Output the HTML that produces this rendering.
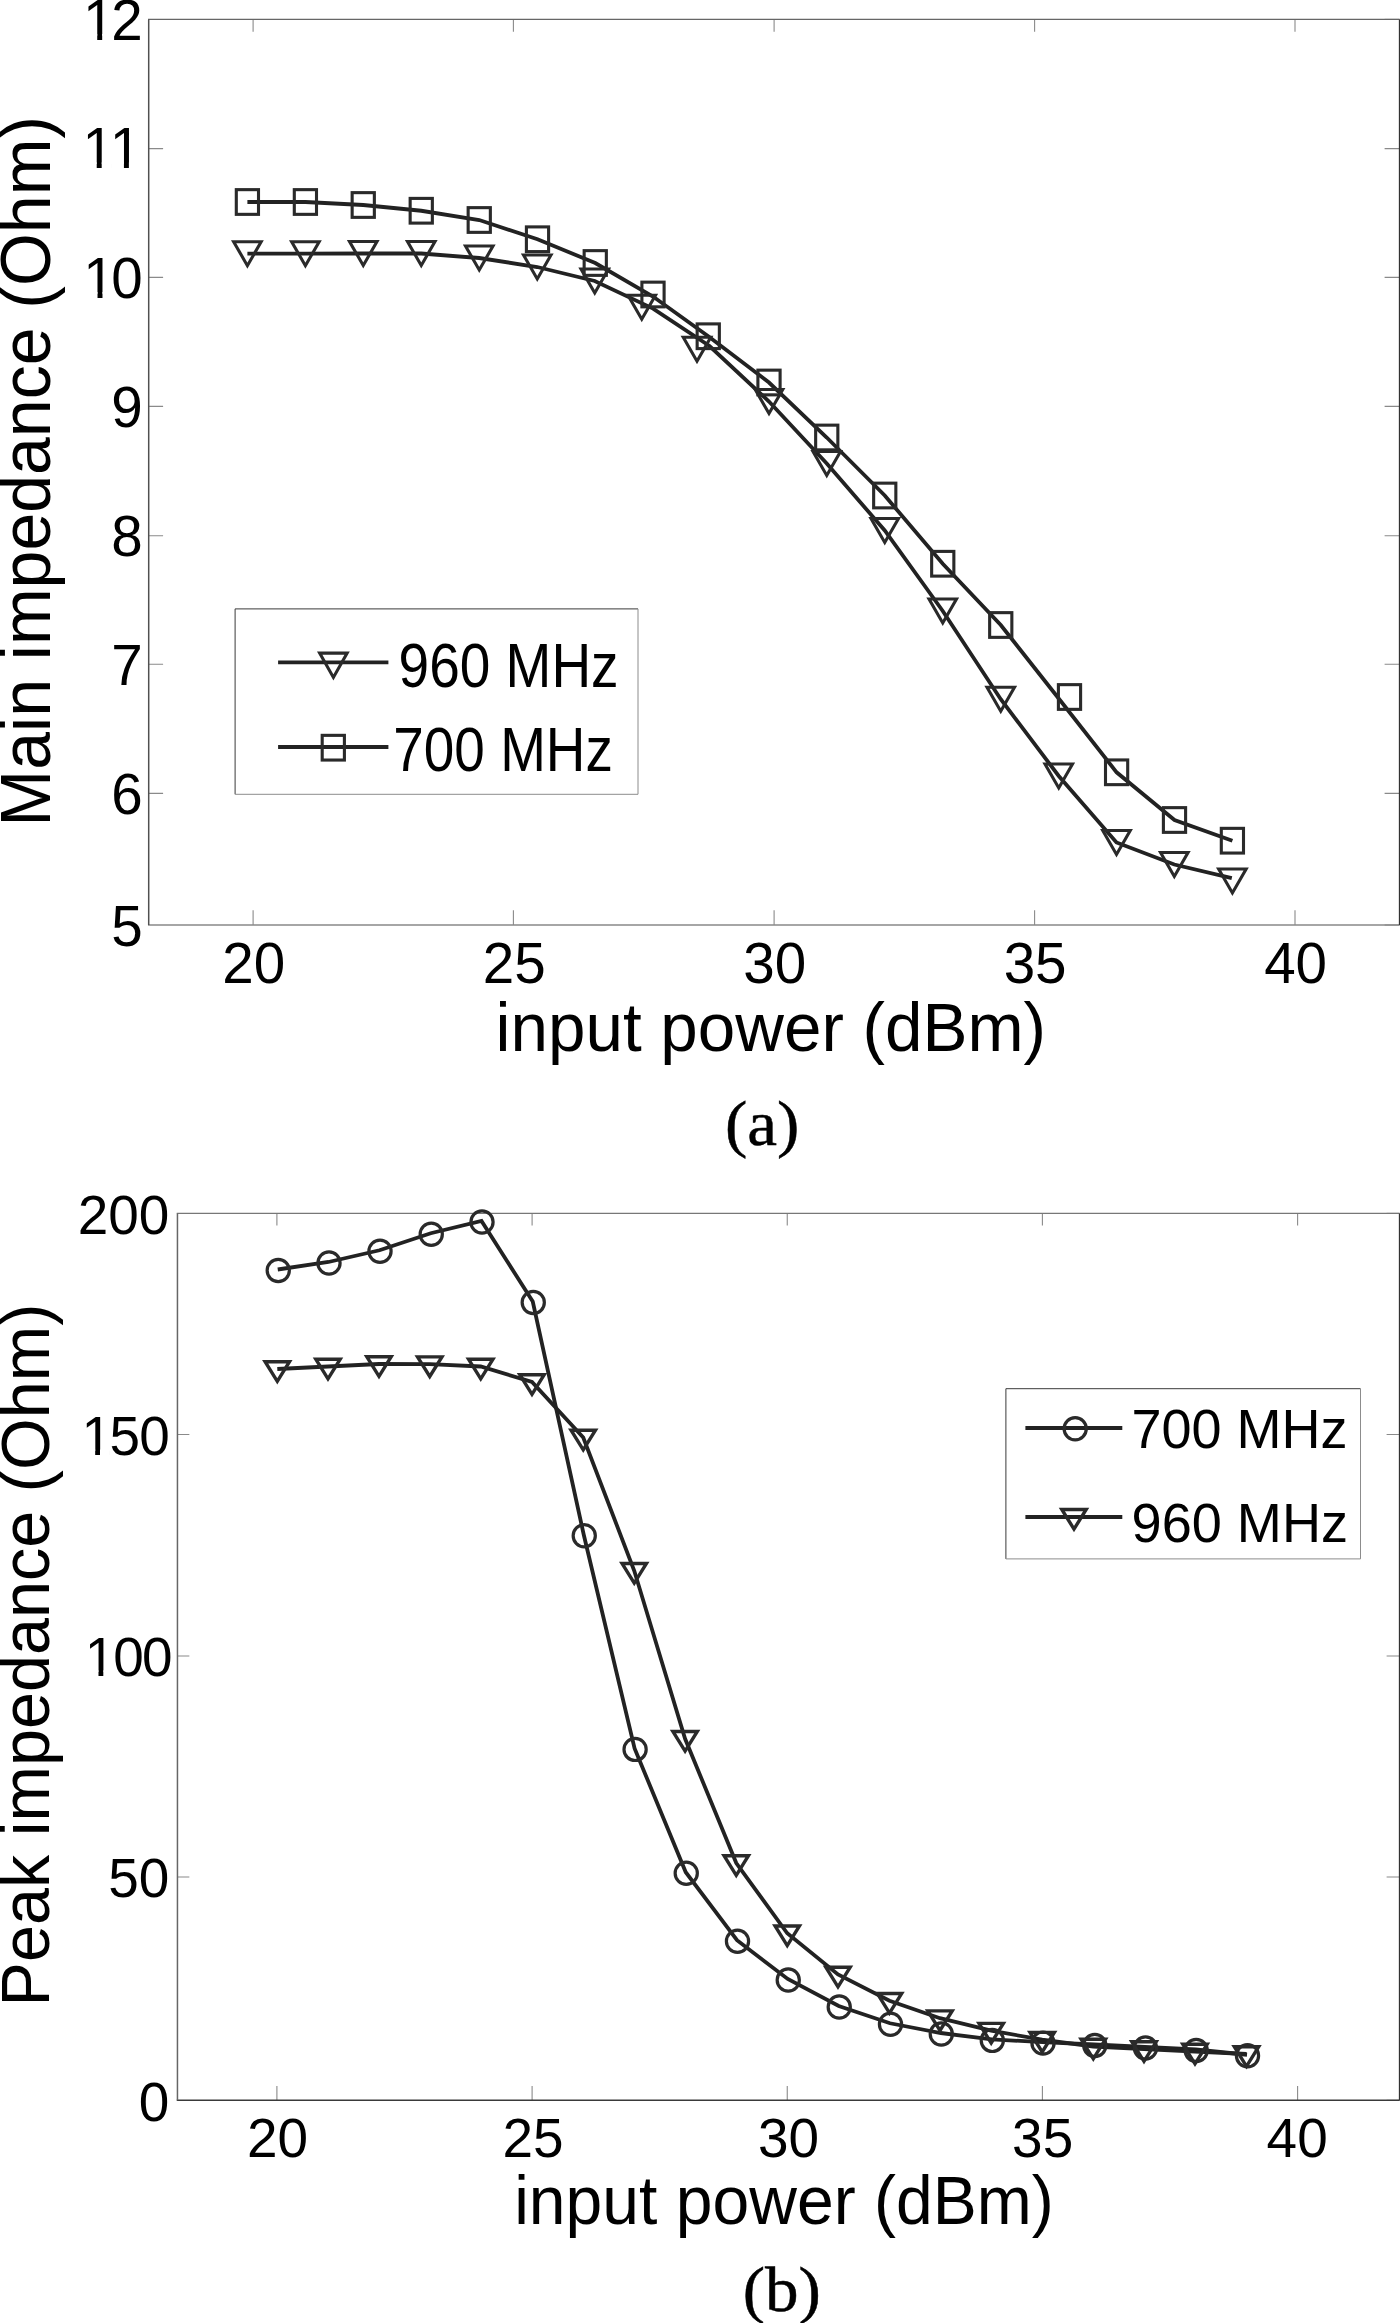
<!DOCTYPE html>
<html lang="en"><head><meta charset="utf-8"><title>Impedance versus input power</title>
<style>html,body{margin:0;padding:0;background:#fff}svg{display:block}text{font-family:"Liberation Sans",sans-serif;fill:#000}.s{font-family:"Liberation Serif",serif;stroke:#000;stroke-width:.5px}</style></head><body>
<svg width="1400" height="2323" viewBox="0 0 1400 2323">
<rect width="1400" height="2323" fill="#fff"/>
<g id="panel-a">
<path d="M253.1 925.0v-14.7M253.1 19.4v12.4" stroke="#8a8a8a" stroke-width="1.1" fill="none"/>
<path d="M513.4 925.0v-14.7M513.4 19.4v12.4" stroke="#8a8a8a" stroke-width="1.1" fill="none"/>
<path d="M774.1 925.0v-14.7M774.1 19.4v12.4" stroke="#8a8a8a" stroke-width="1.1" fill="none"/>
<path d="M1034.6 925.0v-14.7M1034.6 19.4v12.4" stroke="#8a8a8a" stroke-width="1.1" fill="none"/>
<path d="M1295.0 925.0v-14.7M1295.0 19.4v12.4" stroke="#8a8a8a" stroke-width="1.1" fill="none"/>
<path d="M1399.6 19.4h-15" stroke="#8a8a8a" stroke-width="1.1" fill="none"/>
<path d="M148.7 148.6h14.4M1399.6 148.6h-15" stroke="#8a8a8a" stroke-width="1.1" fill="none"/>
<path d="M148.7 277.4h14.4M1399.6 277.4h-15" stroke="#8a8a8a" stroke-width="1.1" fill="none"/>
<path d="M148.7 406.4h14.4M1399.6 406.4h-15" stroke="#8a8a8a" stroke-width="1.1" fill="none"/>
<path d="M148.7 535.7h14.4M1399.6 535.7h-15" stroke="#8a8a8a" stroke-width="1.1" fill="none"/>
<path d="M148.7 664.2h14.4M1399.6 664.2h-15" stroke="#8a8a8a" stroke-width="1.1" fill="none"/>
<path d="M148.7 793.4h14.4M1399.6 793.4h-15" stroke="#8a8a8a" stroke-width="1.1" fill="none"/>
<path d="M1399.6 925.0h-15" stroke="#8a8a8a" stroke-width="1.1" fill="none"/>
<path d="M148.0 19.4H1399.6" stroke="#666" stroke-width="1.3" fill="none"/>
<path d="M148.0 925.0H1399.6" stroke="#888" stroke-width="1.5" fill="none"/>
<path d="M148.7 19.4V925.0" stroke="#505050" stroke-width="1.5" fill="none"/>
<path d="M1399.6 19.4V925.0" stroke="#333" stroke-width="1.5" fill="none"/>
<text x="83.00 111.37" y="0" transform="translate(0 39.70) scale(1 1.015)" font-size="56.6">12</text><rect x="86.40" y="33.96" width="10.82" height="6.61" fill="#fff"/><rect x="102.18" y="33.96" width="10.26" height="6.61" fill="#fff"/>
<text x="82.50 109.70" y="0" transform="translate(0 168.20) scale(1 1.015)" font-size="56.6">11</text><rect x="85.90" y="162.46" width="10.82" height="6.61" fill="#fff"/><rect x="101.68" y="162.46" width="10.26" height="6.61" fill="#fff"/><rect x="113.10" y="162.46" width="10.82" height="6.61" fill="#fff"/><rect x="128.88" y="162.46" width="10.26" height="6.61" fill="#fff"/>
<text x="83.30 111.37" y="0" transform="translate(0 297.80) scale(1 1.015)" font-size="56.6">10</text><rect x="86.70" y="292.06" width="10.82" height="6.61" fill="#fff"/><rect x="102.48" y="292.06" width="10.26" height="6.61" fill="#fff"/>
<text transform="translate(142.85 426.90) scale(1 1.015)" font-size="56.6" text-anchor="end">9</text>
<text transform="translate(142.85 555.90) scale(1 1.015)" font-size="56.6" text-anchor="end">8</text>
<text transform="translate(142.85 684.70) scale(1 1.015)" font-size="56.6" text-anchor="end">7</text>
<text transform="translate(142.85 814.00) scale(1 1.015)" font-size="56.6" text-anchor="end">6</text>
<text transform="translate(142.85 946.00) scale(1 1.015)" font-size="56.6" text-anchor="end">5</text>
<text transform="translate(253.70 982.60) scale(1 1.025)" font-size="56.6" text-anchor="middle">20</text>
<text transform="translate(514.30 982.60) scale(1 1.025)" font-size="56.6" text-anchor="middle">25</text>
<text transform="translate(774.75 982.60) scale(1 1.025)" font-size="56.6" text-anchor="middle">30</text>
<text transform="translate(1035.10 982.60) scale(1 1.025)" font-size="56.6" text-anchor="middle">35</text>
<text transform="translate(1295.60 982.60) scale(1 1.025)" font-size="56.6" text-anchor="middle">40</text>
<text transform="translate(49.9 826.4) rotate(-90) scale(1 1.035)" font-size="68">Main impedance (Ohm)</text>
<text transform="translate(495.50 1051.40) scale(1 1.027)" font-size="67.4">input power (dBm)</text>
<text class="s" transform="translate(725.00 1144.90) scale(1 0.95)" font-size="67.1">(a)</text>
<polyline points="247.40,202.00 305.40,202.00 363.25,205.00 421.25,210.75 479.25,220.00 537.50,239.25 595.25,263.00 653.00,296.50 708.25,336.25 769.00,382.50 826.75,437.50 884.75,495.50 942.75,563.75 1000.75,625.00 1058.70,698.50 1116.60,772.30 1174.50,820.00 1232.40,840.70" fill="none" stroke="#222" stroke-width="3.8" stroke-linejoin="miter" stroke-miterlimit="6" stroke-linecap="butt"/>
<polyline points="247.40,253.70 305.40,253.70 363.25,253.50 421.25,253.50 479.25,258.00 537.25,267.00 594.75,281.00 653.10,308.60 709.50,346.00 769.00,401.50 826.75,463.50 884.75,530.50 942.75,611.00 1000.75,699.25 1058.75,776.00 1116.50,842.50 1174.30,864.50 1231.80,878.20" fill="none" stroke="#222" stroke-width="3.8" stroke-linejoin="miter" stroke-miterlimit="6" stroke-linecap="butt"/>
<rect x="236.30" y="189.65" width="22.20" height="24.70" fill="none" stroke="#2a2a2a" stroke-width="3.1"/>
<rect x="294.30" y="189.65" width="22.20" height="24.70" fill="none" stroke="#2a2a2a" stroke-width="3.1"/>
<rect x="352.15" y="192.65" width="22.20" height="24.70" fill="none" stroke="#2a2a2a" stroke-width="3.1"/>
<rect x="410.15" y="198.40" width="22.20" height="24.70" fill="none" stroke="#2a2a2a" stroke-width="3.1"/>
<rect x="468.15" y="207.65" width="22.20" height="24.70" fill="none" stroke="#2a2a2a" stroke-width="3.1"/>
<rect x="526.40" y="226.90" width="22.20" height="24.70" fill="none" stroke="#2a2a2a" stroke-width="3.1"/>
<rect x="584.15" y="250.65" width="22.20" height="24.70" fill="none" stroke="#2a2a2a" stroke-width="3.1"/>
<rect x="641.90" y="282.15" width="22.20" height="24.70" fill="none" stroke="#2a2a2a" stroke-width="3.1"/>
<rect x="697.15" y="323.90" width="22.20" height="24.70" fill="none" stroke="#2a2a2a" stroke-width="3.1"/>
<rect x="757.90" y="370.15" width="22.20" height="24.70" fill="none" stroke="#2a2a2a" stroke-width="3.1"/>
<rect x="815.65" y="425.15" width="22.20" height="24.70" fill="none" stroke="#2a2a2a" stroke-width="3.1"/>
<rect x="873.65" y="483.15" width="22.20" height="24.70" fill="none" stroke="#2a2a2a" stroke-width="3.1"/>
<rect x="931.65" y="551.40" width="22.20" height="24.70" fill="none" stroke="#2a2a2a" stroke-width="3.1"/>
<rect x="989.65" y="612.65" width="22.20" height="24.70" fill="none" stroke="#2a2a2a" stroke-width="3.1"/>
<rect x="1058.40" y="684.65" width="22.20" height="24.70" fill="none" stroke="#2a2a2a" stroke-width="3.1"/>
<rect x="1105.50" y="759.95" width="22.20" height="24.70" fill="none" stroke="#2a2a2a" stroke-width="3.1"/>
<rect x="1163.40" y="807.65" width="22.20" height="24.70" fill="none" stroke="#2a2a2a" stroke-width="3.1"/>
<rect x="1221.30" y="828.35" width="22.20" height="24.70" fill="none" stroke="#2a2a2a" stroke-width="3.1"/>
<path d="M233.65 241.70H261.15L247.40 265.70Z" fill="none" stroke="#2a2a2a" stroke-width="3.1" stroke-linejoin="miter" stroke-miterlimit="10"/>
<path d="M291.65 241.70H319.15L305.40 265.70Z" fill="none" stroke="#2a2a2a" stroke-width="3.1" stroke-linejoin="miter" stroke-miterlimit="10"/>
<path d="M349.50 241.50H377.00L363.25 265.50Z" fill="none" stroke="#2a2a2a" stroke-width="3.1" stroke-linejoin="miter" stroke-miterlimit="10"/>
<path d="M407.50 241.50H435.00L421.25 265.50Z" fill="none" stroke="#2a2a2a" stroke-width="3.1" stroke-linejoin="miter" stroke-miterlimit="10"/>
<path d="M465.50 246.00H493.00L479.25 270.00Z" fill="none" stroke="#2a2a2a" stroke-width="3.1" stroke-linejoin="miter" stroke-miterlimit="10"/>
<path d="M523.50 255.00H551.00L537.25 279.00Z" fill="none" stroke="#2a2a2a" stroke-width="3.1" stroke-linejoin="miter" stroke-miterlimit="10"/>
<path d="M581.00 269.00H608.50L594.75 293.00Z" fill="none" stroke="#2a2a2a" stroke-width="3.1" stroke-linejoin="miter" stroke-miterlimit="10"/>
<path d="M628.00 295.25H655.50L641.75 319.25Z" fill="none" stroke="#2a2a2a" stroke-width="3.1" stroke-linejoin="miter" stroke-miterlimit="10"/>
<path d="M683.25 337.25H710.75L697.00 361.25Z" fill="none" stroke="#2a2a2a" stroke-width="3.1" stroke-linejoin="miter" stroke-miterlimit="10"/>
<path d="M755.25 389.50H782.75L769.00 413.50Z" fill="none" stroke="#2a2a2a" stroke-width="3.1" stroke-linejoin="miter" stroke-miterlimit="10"/>
<path d="M813.00 451.50H840.50L826.75 475.50Z" fill="none" stroke="#2a2a2a" stroke-width="3.1" stroke-linejoin="miter" stroke-miterlimit="10"/>
<path d="M871.00 518.50H898.50L884.75 542.50Z" fill="none" stroke="#2a2a2a" stroke-width="3.1" stroke-linejoin="miter" stroke-miterlimit="10"/>
<path d="M929.00 599.00H956.50L942.75 623.00Z" fill="none" stroke="#2a2a2a" stroke-width="3.1" stroke-linejoin="miter" stroke-miterlimit="10"/>
<path d="M987.00 687.25H1014.50L1000.75 711.25Z" fill="none" stroke="#2a2a2a" stroke-width="3.1" stroke-linejoin="miter" stroke-miterlimit="10"/>
<path d="M1045.00 764.00H1072.50L1058.75 788.00Z" fill="none" stroke="#2a2a2a" stroke-width="3.1" stroke-linejoin="miter" stroke-miterlimit="10"/>
<path d="M1102.75 830.50H1130.25L1116.50 854.50Z" fill="none" stroke="#2a2a2a" stroke-width="3.1" stroke-linejoin="miter" stroke-miterlimit="10"/>
<path d="M1160.55 852.50H1188.05L1174.30 876.50Z" fill="none" stroke="#2a2a2a" stroke-width="3.1" stroke-linejoin="miter" stroke-miterlimit="10"/>
<path d="M1218.65 869.00H1246.15L1232.40 893.00Z" fill="none" stroke="#2a2a2a" stroke-width="3.1" stroke-linejoin="miter" stroke-miterlimit="10"/>
<path d="M235.1 794.3V608.9H638" fill="none" stroke="#3a3a3a" stroke-width="1"/>
<path d="M638 608.9V794.3H235.1" fill="none" stroke="#8c8c8c" stroke-width="1"/>
<path d="M278.1 662.3H388.4M278.1 747.0H388.4" stroke="#222" stroke-width="3.8" fill="none"/>
<path d="M319.65 653.10H347.15L333.40 677.40Z" fill="none" stroke="#2a2a2a" stroke-width="3.1" stroke-linejoin="miter" stroke-miterlimit="10"/>
<rect x="322.20" y="735.35" width="22.20" height="24.70" fill="none" stroke="#2a2a2a" stroke-width="3.1"/>
<text transform="translate(398.60 686.60) scale(1 1.135)" font-size="55.0">960 MHz</text>
<text transform="translate(393.30 770.70) scale(1 1.135)" font-size="54.9">700 MHz</text>
</g>
<g id="panel-b">
<path d="M276.9 2100.35v-14.4M276.9 1213.4v12" stroke="#8a8a8a" stroke-width="1.1" fill="none"/>
<path d="M532.1 2100.35v-14.4M532.1 1213.4v12" stroke="#8a8a8a" stroke-width="1.1" fill="none"/>
<path d="M787.25 2100.35v-14.4M787.25 1213.4v12" stroke="#8a8a8a" stroke-width="1.1" fill="none"/>
<path d="M1042.4 2100.35v-14.4M1042.4 1213.4v12" stroke="#8a8a8a" stroke-width="1.1" fill="none"/>
<path d="M1297.6 2100.35v-14.4M1297.6 1213.4v12" stroke="#8a8a8a" stroke-width="1.1" fill="none"/>
<path d="M1399.6 1213.4h-13" stroke="#8a8a8a" stroke-width="1.1" fill="none"/>
<path d="M177.45 1434.5h11.9M1399.6 1434.5h-13" stroke="#8a8a8a" stroke-width="1.1" fill="none"/>
<path d="M177.45 1656.0h11.9M1399.6 1656.0h-13" stroke="#8a8a8a" stroke-width="1.1" fill="none"/>
<path d="M177.45 1877.0h11.9M1399.6 1877.0h-13" stroke="#8a8a8a" stroke-width="1.1" fill="none"/>
<path d="M1399.6 2100.35h-13" stroke="#8a8a8a" stroke-width="1.1" fill="none"/>
<path d="M176.75 1213.4H1399.6" stroke="#777" stroke-width="1.3" fill="none"/>
<path d="M176.75 2100.35H1399.6" stroke="#3a3a3a" stroke-width="1.5" fill="none"/>
<path d="M177.45 1213.4V2100.35" stroke="#666" stroke-width="1.5" fill="none"/>
<path d="M1399.6 1213.4V2100.35" stroke="#333" stroke-width="1.5" fill="none"/>
<text transform="translate(169.40 1234.15) scale(1 1.0)" font-size="54.9" text-anchor="end">200</text>
<text x="81.40 109.50 139.30" y="0" transform="translate(0 1455.05) scale(1 1.0)" font-size="54.9">150</text><rect x="84.69" y="1449.56" width="10.50" height="6.31" fill="#fff"/><rect x="100.00" y="1449.56" width="9.95" height="6.31" fill="#fff"/>
<text x="84.70 113.30 142.00" y="0" transform="translate(0 1675.90) scale(1 1.0)" font-size="54.9">100</text><rect x="87.99" y="1670.41" width="10.50" height="6.31" fill="#fff"/><rect x="103.30" y="1670.41" width="9.95" height="6.31" fill="#fff"/>
<text transform="translate(169.40 1896.95) scale(1 1.0)" font-size="54.9" text-anchor="end">50</text>
<text transform="translate(169.40 2120.65) scale(1 1.0)" font-size="54.9" text-anchor="end">0</text>
<text transform="translate(277.50 2156.60) scale(1 1.0)" font-size="54.9" text-anchor="middle">20</text>
<text transform="translate(533.10 2156.60) scale(1 1.0)" font-size="54.9" text-anchor="middle">25</text>
<text transform="translate(788.45 2156.60) scale(1 1.0)" font-size="54.9" text-anchor="middle">30</text>
<text transform="translate(1042.65 2156.60) scale(1 1.0)" font-size="54.9" text-anchor="middle">35</text>
<text transform="translate(1297.15 2156.60) scale(1 1.0)" font-size="54.9" text-anchor="middle">40</text>
<text transform="translate(48.9 2006.5) rotate(-90) scale(1 1.035)" font-size="66.57">Peak impedance (Ohm)</text>
<text transform="translate(514.20 2224.00) scale(1 1.027)" font-size="66.05">input power (dBm)</text>
<text class="s" transform="translate(742.70 2310.50) scale(1 0.95)" font-size="67.1">(b)</text>
<polyline points="277.75,1269.50 328.50,1262.00 379.50,1250.25 430.75,1233.25 481.50,1221.00 532.75,1301.50 583.75,1534.75 634.60,1748.40 685.75,1872.25 737.00,1940.25 787.75,1979.00 838.75,2006.00 890.00,2023.25 940.80,2033.00 991.80,2039.40 1042.50,2042.10 1094.30,2044.50 1145.00,2047.00 1195.70,2049.50 1247.00,2054.75" fill="none" stroke="#222" stroke-width="3.8" stroke-linejoin="miter" stroke-miterlimit="6" stroke-linecap="butt"/>
<polyline points="277.30,1369.00 328.00,1366.50 379.00,1364.00 429.75,1364.20 480.75,1366.50 532.00,1382.00 583.25,1437.50 634.25,1570.80 685.10,1738.80 736.25,1863.00 787.25,1933.30 838.00,1974.50 889.50,2000.80 940.00,2018.20 991.20,2030.70 1042.20,2039.70 1093.30,2046.50 1144.00,2049.10 1195.00,2051.50 1246.50,2054.00" fill="none" stroke="#222" stroke-width="3.8" stroke-linejoin="miter" stroke-miterlimit="6" stroke-linecap="butt"/>
<circle cx="278.25" cy="1270.50" r="11.1" fill="none" stroke="#2a2a2a" stroke-width="3.2"/>
<circle cx="329.00" cy="1263.00" r="11.1" fill="none" stroke="#2a2a2a" stroke-width="3.2"/>
<circle cx="380.00" cy="1251.25" r="11.1" fill="none" stroke="#2a2a2a" stroke-width="3.2"/>
<circle cx="431.25" cy="1234.25" r="11.1" fill="none" stroke="#2a2a2a" stroke-width="3.2"/>
<circle cx="482.00" cy="1222.00" r="11.1" fill="none" stroke="#2a2a2a" stroke-width="3.2"/>
<circle cx="533.25" cy="1302.50" r="11.1" fill="none" stroke="#2a2a2a" stroke-width="3.2"/>
<circle cx="584.25" cy="1535.75" r="11.1" fill="none" stroke="#2a2a2a" stroke-width="3.2"/>
<circle cx="635.10" cy="1749.40" r="11.1" fill="none" stroke="#2a2a2a" stroke-width="3.2"/>
<circle cx="686.25" cy="1873.25" r="11.1" fill="none" stroke="#2a2a2a" stroke-width="3.2"/>
<circle cx="737.50" cy="1941.25" r="11.1" fill="none" stroke="#2a2a2a" stroke-width="3.2"/>
<circle cx="788.25" cy="1980.00" r="11.1" fill="none" stroke="#2a2a2a" stroke-width="3.2"/>
<circle cx="839.25" cy="2007.00" r="11.1" fill="none" stroke="#2a2a2a" stroke-width="3.2"/>
<circle cx="890.50" cy="2024.25" r="11.1" fill="none" stroke="#2a2a2a" stroke-width="3.2"/>
<circle cx="941.30" cy="2034.00" r="11.1" fill="none" stroke="#2a2a2a" stroke-width="3.2"/>
<circle cx="992.30" cy="2040.40" r="11.1" fill="none" stroke="#2a2a2a" stroke-width="3.2"/>
<circle cx="1043.00" cy="2043.10" r="11.1" fill="none" stroke="#2a2a2a" stroke-width="3.2"/>
<circle cx="1094.80" cy="2045.50" r="11.1" fill="none" stroke="#2a2a2a" stroke-width="3.2"/>
<circle cx="1145.50" cy="2048.00" r="11.1" fill="none" stroke="#2a2a2a" stroke-width="3.2"/>
<circle cx="1196.20" cy="2050.50" r="11.1" fill="none" stroke="#2a2a2a" stroke-width="3.2"/>
<circle cx="1247.50" cy="2055.75" r="11.1" fill="none" stroke="#2a2a2a" stroke-width="3.2"/>
<path d="M265.10 1361.70H289.50L277.30 1381.30Z" fill="none" stroke="#2a2a2a" stroke-width="3.4" stroke-linejoin="miter" stroke-miterlimit="10"/>
<path d="M315.80 1359.20H340.20L328.00 1378.80Z" fill="none" stroke="#2a2a2a" stroke-width="3.4" stroke-linejoin="miter" stroke-miterlimit="10"/>
<path d="M366.80 1356.70H391.20L379.00 1376.30Z" fill="none" stroke="#2a2a2a" stroke-width="3.4" stroke-linejoin="miter" stroke-miterlimit="10"/>
<path d="M417.55 1356.90H441.95L429.75 1376.50Z" fill="none" stroke="#2a2a2a" stroke-width="3.4" stroke-linejoin="miter" stroke-miterlimit="10"/>
<path d="M468.55 1359.20H492.95L480.75 1378.80Z" fill="none" stroke="#2a2a2a" stroke-width="3.4" stroke-linejoin="miter" stroke-miterlimit="10"/>
<path d="M519.80 1374.70H544.20L532.00 1394.30Z" fill="none" stroke="#2a2a2a" stroke-width="3.4" stroke-linejoin="miter" stroke-miterlimit="10"/>
<path d="M571.05 1430.20H595.45L583.25 1449.80Z" fill="none" stroke="#2a2a2a" stroke-width="3.4" stroke-linejoin="miter" stroke-miterlimit="10"/>
<path d="M622.05 1563.50H646.45L634.25 1583.10Z" fill="none" stroke="#2a2a2a" stroke-width="3.4" stroke-linejoin="miter" stroke-miterlimit="10"/>
<path d="M672.90 1731.50H697.30L685.10 1751.10Z" fill="none" stroke="#2a2a2a" stroke-width="3.4" stroke-linejoin="miter" stroke-miterlimit="10"/>
<path d="M724.05 1855.70H748.45L736.25 1875.30Z" fill="none" stroke="#2a2a2a" stroke-width="3.4" stroke-linejoin="miter" stroke-miterlimit="10"/>
<path d="M775.05 1926.00H799.45L787.25 1945.60Z" fill="none" stroke="#2a2a2a" stroke-width="3.4" stroke-linejoin="miter" stroke-miterlimit="10"/>
<path d="M825.80 1967.20H850.20L838.00 1986.80Z" fill="none" stroke="#2a2a2a" stroke-width="3.4" stroke-linejoin="miter" stroke-miterlimit="10"/>
<path d="M877.30 1993.50H901.70L889.50 2013.10Z" fill="none" stroke="#2a2a2a" stroke-width="3.4" stroke-linejoin="miter" stroke-miterlimit="10"/>
<path d="M927.80 2010.90H952.20L940.00 2030.50Z" fill="none" stroke="#2a2a2a" stroke-width="3.4" stroke-linejoin="miter" stroke-miterlimit="10"/>
<path d="M979.00 2023.40H1003.40L991.20 2043.00Z" fill="none" stroke="#2a2a2a" stroke-width="3.4" stroke-linejoin="miter" stroke-miterlimit="10"/>
<path d="M1030.00 2032.40H1054.40L1042.20 2052.00Z" fill="none" stroke="#2a2a2a" stroke-width="3.4" stroke-linejoin="miter" stroke-miterlimit="10"/>
<path d="M1081.10 2039.20H1105.50L1093.30 2058.80Z" fill="none" stroke="#2a2a2a" stroke-width="3.4" stroke-linejoin="miter" stroke-miterlimit="10"/>
<path d="M1131.80 2041.80H1156.20L1144.00 2061.40Z" fill="none" stroke="#2a2a2a" stroke-width="3.4" stroke-linejoin="miter" stroke-miterlimit="10"/>
<path d="M1182.80 2044.20H1207.20L1195.00 2063.80Z" fill="none" stroke="#2a2a2a" stroke-width="3.4" stroke-linejoin="miter" stroke-miterlimit="10"/>
<path d="M1234.30 2046.70H1258.70L1246.50 2066.30Z" fill="none" stroke="#2a2a2a" stroke-width="3.4" stroke-linejoin="miter" stroke-miterlimit="10"/>
<path d="M1005.9 1558.9V1388.7H1360.5" fill="none" stroke="#3a3a3a" stroke-width="1"/>
<path d="M1360.5 1388.7V1558.9H1005.9" fill="none" stroke="#8c8c8c" stroke-width="1"/>
<path d="M1025.4 1428.0H1122.3M1025.4 1517.0H1122.3" stroke="#222" stroke-width="3.8" fill="none"/>
<circle cx="1075.20" cy="1428.80" r="11.1" fill="none" stroke="#2a2a2a" stroke-width="3.2"/>
<path d="M1061.80 1509.50H1086.20L1074.00 1529.10Z" fill="none" stroke="#2a2a2a" stroke-width="3.4" stroke-linejoin="miter" stroke-miterlimit="10"/>
<text transform="translate(1131.40 1447.50) scale(1 1.03)" font-size="54.0">700 MHz</text>
<text transform="translate(1131.60 1542.40) scale(1 1.03)" font-size="54.1">960 MHz</text>
</g>
</svg></body></html>
